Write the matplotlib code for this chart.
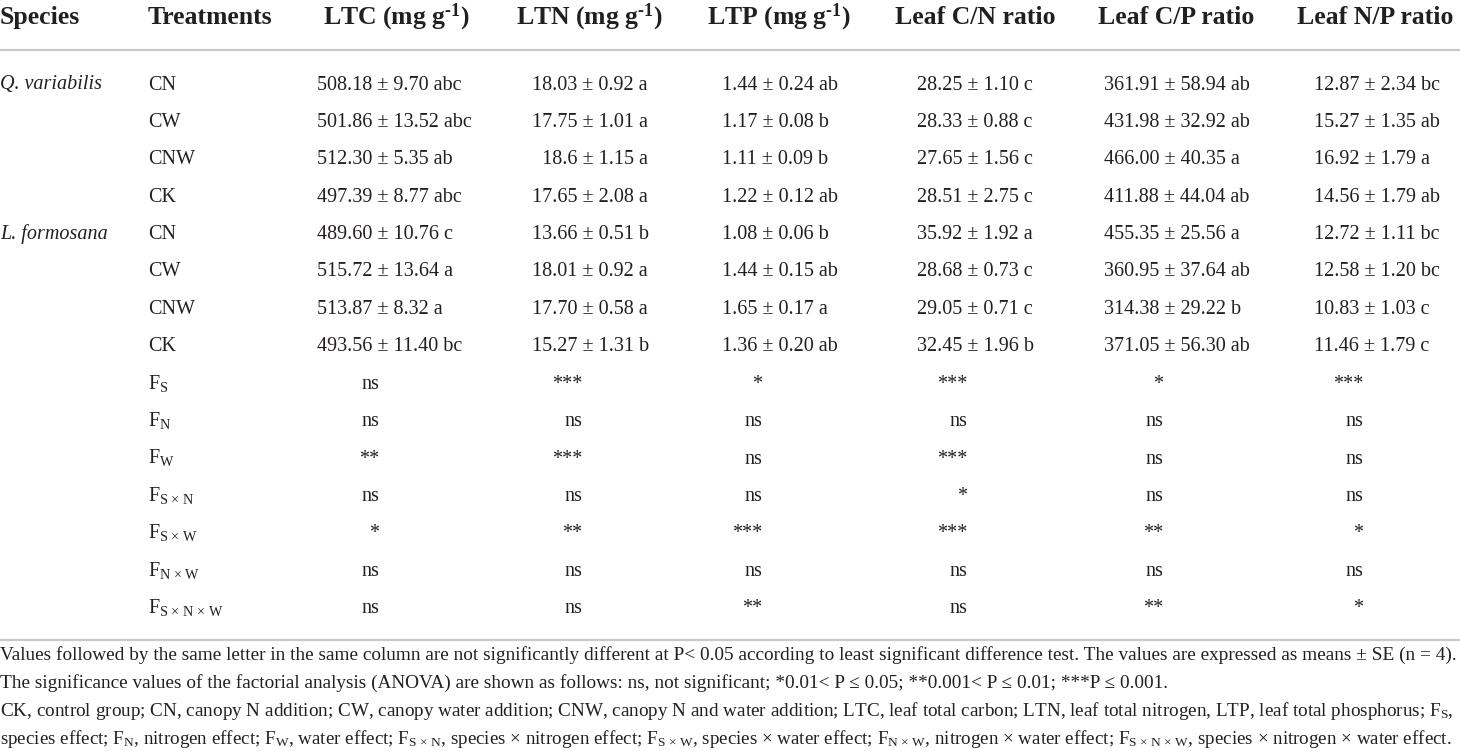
import matplotlib
matplotlib.use("Agg")
import matplotlib.pyplot as plt

plt.rcParams['font.family'] = ['Liberation Serif', 'DejaVu Serif']
plt.rcParams['mathtext.fontset'] = 'custom'
plt.rcParams['mathtext.rm'] = 'Liberation Serif'
plt.rcParams['mathtext.it'] = 'Liberation Serif:italic'
plt.rcParams['mathtext.bf'] = 'Liberation Serif:bold'

# table content
headers = ['Species', 'Treatments',
           r'LTC (mg g$^{\mathregular{‐1}}$)', r'LTN (mg g$^{\mathregular{‐1}}$)',
           r'LTP (mg g$^{\mathregular{‐1}}$)',
           'Leaf C/N ratio', 'Leaf C/P ratio', 'Leaf N/P ratio']
species = ['Q. variabilis', 'L. formosana']
treatments = ['CN', 'CW', 'CNW', 'CK']

ltc = ['508.18 ± 9.70 abc', '501.86 ± 13.52 abc', '512.30 ± 5.35 ab', '497.39 ± 8.77 abc',
       '489.60 ± 10.76 c', '515.72 ± 13.64 a', '513.87 ± 8.32 a', '493.56 ± 11.40 bc']
ltn = ['18.03 ± 0.92 a', '17.75 ± 1.01 a', '\u200718.6 ± 1.15 a', '17.65 ± 2.08 a',
       '13.66 ± 0.51 b', '18.01 ± 0.92 a', '17.70 ± 0.58 a', '15.27 ± 1.31 b']
ltp = ['1.44 ± 0.24 ab', '1.17 ± 0.08 b', '1.11 ± 0.09 b', '1.22 ± 0.12 ab',
       '1.08 ± 0.06 b', '1.44 ± 0.15 ab', '1.65 ± 0.17 a', '1.36 ± 0.20 ab']
cn_ratio = ['28.25 ± 1.10 c', '28.33 ± 0.88 c', '27.65 ± 1.56 c', '28.51 ± 2.75 c',
            '35.92 ± 1.92 a', '28.68 ± 0.73 c', '29.05 ± 0.71 c', '32.45 ± 1.96 b']
cp_ratio = ['361.91 ± 58.94 ab', '431.98 ± 32.92 ab', '466.00 ± 40.35 a', '411.88 ± 44.04 ab',
            '455.35 ± 25.56 a', '360.95 ± 37.64 ab', '314.38 ± 29.22 b', '371.05 ± 56.30 ab']
np_ratio = ['12.87 ± 2.34 bc', '15.27 ± 1.35 ab', '16.92 ± 1.79 a', '14.56 ± 1.79 ab',
            '12.72 ± 1.11 bc', '12.58 ± 1.20 bc', '10.83 ± 1.03 c', '11.46 ± 1.79 c']

effects = [r'F$_{\mathregular{S}}$', r'F$_{\mathregular{N}}$', r'F$_{\mathregular{W}}$',
           r'F$_{\mathregular{S\,\times\,N}}$', r'F$_{\mathregular{S\,\times\,W}}$',
           r'F$_{\mathregular{N\,\times\,W}}$', r'F$_{\mathregular{S\,\times\,N\,\times\,W}}$']
sig_ltc = ['ns', 'ns', '**', 'ns', '*', 'ns', 'ns']
sig_ltn = ['***', 'ns', '***', 'ns', '**', 'ns', 'ns']
sig_ltp = ['*', 'ns', 'ns', 'ns', '***', 'ns', '**']
sig_cn = ['***', 'ns', '***', '*', '***', 'ns', 'ns']
sig_cp = ['*', 'ns', 'ns', 'ns', '**', 'ns', '**']
sig_np = ['***', 'ns', 'ns', 'ns', '*', 'ns', '*']

notes = [
    'Values followed by the same letter in the same column are not significantly different at P< 0.05 '
    'according to least significant difference test. The values are expressed as means ± SE (n = 4).',
    'The significance values of the factorial analysis (ANOVA) are shown as follows: ns, not significant; '
    '*0.01< P ≤ 0.05; **0.001< P ≤ 0.01; ***P ≤ 0.001.',
    'CK, control group; CN, canopy N addition; CW, canopy water addition; CNW, canopy N and water addition; '
    r'LTC, leaf total carbon; LTN, leaf total nitrogen, LTP, leaf total phosphorus; F$_{\mathregular{S}}$,',
    r'species effect; F$_{\mathregular{N}}$, nitrogen effect; F$_{\mathregular{W}}$, water effect; '
    r'F$_{\mathregular{S\,\times\,N}}$, species × nitrogen effect; F$_{\mathregular{S\,\times\,W}}$, '
    r'species × water effect; F$_{\mathregular{N\,\times\,W}}$, nitrogen × water effect; '
    r'F$_{\mathregular{S\,\times\,N\,\times\,W}}$, species × nitrogen × water effect.',
]
# lines that run to the right margin (justified in the source)
notes_full = [True, False, True, True]

value_cols = [ltc, ltn, ltp, cn_ratio, cp_ratio, np_ratio]
sig_cols = [sig_ltc, sig_ltn, sig_ltp, sig_cn, sig_cp, sig_np]

# layout (pixels)
W, H = 1460, 751
ink = '#231f20'
rule = '#c9c9c9'
header_x = [0, 148, 323, 516, 707, 895, 1098, 1297]
value_x = [317, 532, 722, 917, 1104, 1314]
sig_right = [379, 582, 762, 967, 1163, 1363]
row0, row_step = 89.5, 37.4
body_fs, head_fs = 14.5, 18.5

fig = plt.figure(figsize=(W / 100, H / 100), dpi=100)
ax = fig.add_axes([0, 0, 1, 1])
ax.set_xlim(0, W)
ax.set_ylim(H, 0)
ax.axis('off')

for x, h in zip(header_x, headers):
    ax.text(x, 24, h, fontsize=head_fs, fontweight='bold', color=ink, va='baseline', ha='left')

ax.plot([0, W], [50, 50], color=rule, lw=1.6, solid_capstyle='butt')
ax.plot([0, W], [640, 640], color=rule, lw=1.6, solid_capstyle='butt')

n_tr = len(treatments)
for si, sp in enumerate(species):
    y = row0 + si * n_tr * row_step
    ax.text(header_x[0], y, sp, fontsize=body_fs, style='italic', color=ink, va='baseline')
    for ti, tr in enumerate(treatments):
        r = si * n_tr + ti
        y = row0 + r * row_step
        ax.text(header_x[1], y, tr, fontsize=body_fs, color=ink, va='baseline')
        for cx, col in zip(value_x, value_cols):
            ax.text(cx, y, col[r], fontsize=body_fs, color=ink, va='baseline')

base = len(species) * n_tr
for ei, ef in enumerate(effects):
    y = row0 + (base + ei) * row_step
    ax.text(header_x[1], y, ef, fontsize=body_fs, color=ink, va='baseline')
    for rx, col in zip(sig_right, sig_cols):
        ax.text(rx, y, col[ei], fontsize=body_fs, color=ink, va='baseline', ha='right')

# footnotes: full lines are sized to span the width, like justified text
note_y = [660, 688, 716, 744]
renderer = fig.canvas.get_renderer()
sizes = []
for line in notes:
    probe = ax.text(0, 0, line, fontsize=12)
    sizes.append(12 * (W - 8) / probe.get_window_extent(renderer).width)
    probe.remove()
for i, (y, line) in enumerate(zip(note_y, notes)):
    fs = sizes[i] if notes_full[i] else sizes[0]
    ax.text(0, y, line, fontsize=fs, color=ink, va='baseline')

fig.savefig('out.png', dpi=100)
